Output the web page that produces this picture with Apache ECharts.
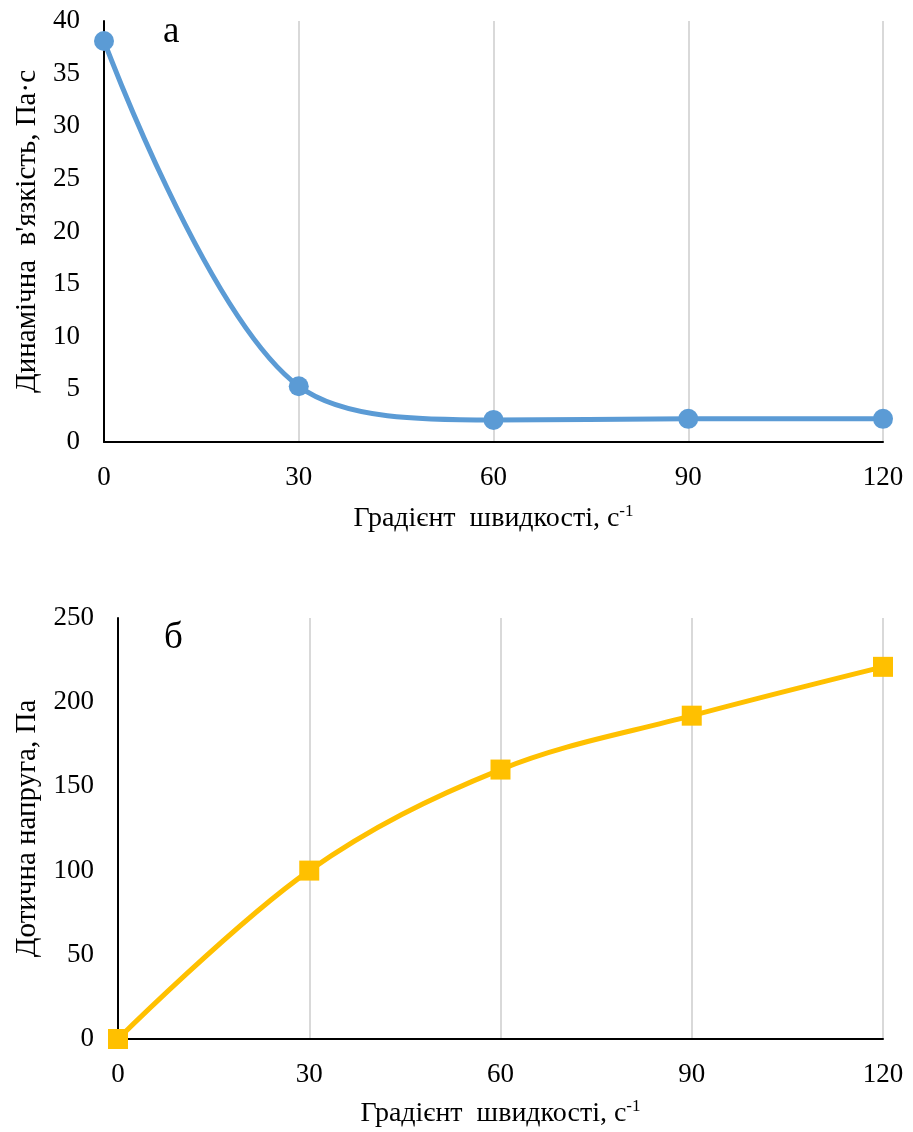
<!DOCTYPE html>
<html>
<head>
<meta charset="utf-8">
<script src="https://cdn.jsdelivr.net/npm/echarts@6/dist/echarts.min.js"></script>
<style>
  html, body { margin: 0; padding: 0; background: #fff; }
  #chart { width: 913px; height: 1132px; }
</style>
</head>
<body>
<div id="chart"></div>
<script>
  // градієнт швидкості, с-1
  const shearRate = [0, 30, 60, 90, 120];
  // а: динамічна в'язкість, Па·с
  const viscosity = [38.1, 5.3, 2.1, 2.2, 2.2];
  // б: дотична напруга, Па
  const stress = [0, 100, 160, 192, 221];

  const xTicks = [0, 30, 60, 90, 120];

  const FONT = '"Liberation Serif", "Times New Roman", serif';

  let chartDom = document.getElementById('chart');
  let myChart = echarts.init(chartDom, null, { renderer: 'canvas' });

  function xAxisFor(gridIndex, labelMargin, nameGap) {
    return {
      type: 'value',
      gridIndex: gridIndex,
      min: xTicks[0],
      max: xTicks[xTicks.length - 1],
      interval: 30,
      name: '{a|Градієнт  швидкості, с}{s|-1}',
      nameLocation: 'middle',
      nameGap: nameGap,
      nameTextStyle: {
        rich: {
          a: { fontFamily: FONT, fontSize: 28, color: '#000' },
          s: { fontFamily: FONT, fontSize: 17, color: '#000', padding: [0, 0, 14, 0] }
        }
      },
      axisLine: { show: true, onZero: false, lineStyle: { color: '#000', width: 2 } },
      axisTick: { show: false },
      axisLabel: { fontFamily: FONT, fontSize: 27, color: '#000', margin: labelMargin },
      splitLine: { show: true, lineStyle: { color: '#d9d9d9', width: 2 } }
    };
  }

  function yAxisFor(gridIndex, max, interval, name, nameGap, nameSize) {
    return {
      type: 'value',
      gridIndex: gridIndex,
      min: 0,
      max: max,
      interval: interval,
      name: name,
      nameLocation: 'middle',
      nameGap: nameGap,
      nameRotate: 90,
      nameTextStyle: { fontFamily: FONT, fontSize: nameSize, color: '#000' },
      axisLine: { show: true, lineStyle: { color: '#000', width: 2 } },
      axisTick: { show: false },
      axisLabel: { fontFamily: FONT, fontSize: 27, color: '#000', margin: 24 },
      splitLine: { show: false }
    };
  }

  let option = {
    backgroundColor: '#fff',
    animation: false,
    title: [
      { text: 'а', left: 158, top: 9, textStyle: { fontFamily: FONT, fontSize: 37, fontWeight: 'normal', color: '#000' } },
      { text: 'б', left: 159, top: 615, textStyle: { fontFamily: FONT, fontSize: 37, fontWeight: 'normal', color: '#000' } }
    ],
    grid: [
      { left: 104, top: 21, width: 779, height: 421, outerBoundsMode: 'none' },
      { left: 118, top: 618, width: 765, height: 421, outerBoundsMode: 'none' }
    ],
    xAxis: [
      xAxisFor(0, 22, 61),
      xAxisFor(1, 22, 59)
    ],
    yAxis: [
      yAxisFor(0, 40, 5, "Динамічна  в'язкість, Па·с", 62, 29),
      yAxisFor(1, 250, 50, 'Дотична напруга, Па', 76, 29)
    ],
    series: [
      {
        type: 'line',
        xAxisIndex: 0,
        yAxisIndex: 0,
        data: shearRate.map((x, i) => [x, viscosity[i]]),
        smooth: 0.35,
        symbol: 'circle',
        symbolSize: 20,
        lineStyle: { color: '#5B9BD5', width: 5 },
        itemStyle: { color: '#5B9BD5' },
        z: 5
      },
      {
        type: 'line',
        xAxisIndex: 1,
        yAxisIndex: 1,
        data: shearRate.map((x, i) => [x, stress[i]]),
        smooth: 0.35,
        symbol: 'rect',
        symbolSize: 20,
        lineStyle: { color: '#FFC000', width: 5 },
        itemStyle: { color: '#FFC000' },
        z: 5
      }
    ]
  };

  myChart.setOption(option);
  window.addEventListener('resize', () => myChart.resize());
</script>
</body>
</html>
